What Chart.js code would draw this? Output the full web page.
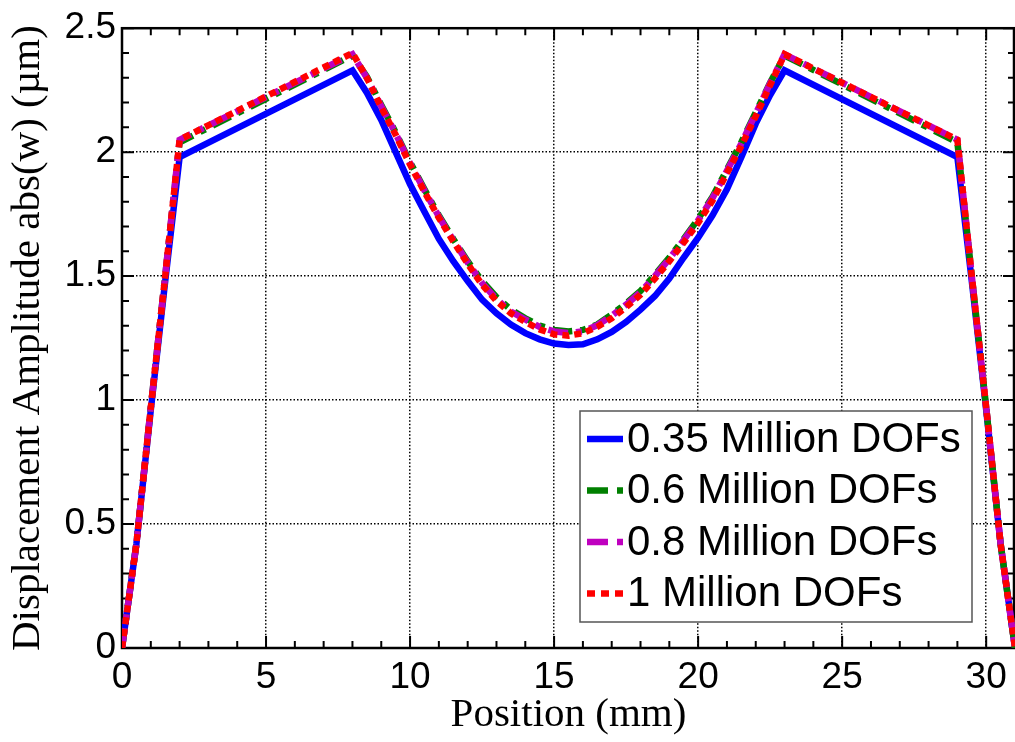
<!DOCTYPE html>
<html>
<head>
<meta charset="utf-8">
<script src="https://cdn.jsdelivr.net/npm/chart.js"></script>
<style>
  html, body { margin: 0; padding: 0; background: #fff; }
  canvas { display: block; }
</style>
</head>
<body>
<canvas id="dofs" width="1015" height="742"></canvas>
<script>
// position along the part (mm)
const position = [0, 0.5, 1, 1.5, 2,
  8, 8.5, 9, 9.5, 10, 10.5, 11, 11.5, 12, 12.5, 13, 13.5, 14, 14.5, 15, 15.5,
  16, 16.5, 17, 17.5, 18, 18.5, 19, 19.5, 20, 20.5, 21, 21.5, 22, 22.5, 23,
  29, 29.5, 30, 30.5, 31];

// displacement amplitude abs(w) (um), one array per mesh
const dofs035 = [0, 0.42, 0.96, 1.48, 1.98,
  2.33, 2.24, 2.13, 2.00, 1.87, 1.76, 1.65, 1.56, 1.48, 1.405, 1.35, 1.305, 1.27, 1.245, 1.228, 1.222,
  1.225, 1.245, 1.275, 1.315, 1.365, 1.42, 1.49, 1.575, 1.655, 1.745, 1.85, 1.98, 2.115, 2.23, 2.33,
  1.98, 1.48, 0.96, 0.42, 0];
const dofs06 = [0, 0.42, 0.97, 1.50, 2.04,
  2.39, 2.305, 2.19, 2.08, 1.96, 1.85, 1.745, 1.65, 1.56, 1.48, 1.415, 1.365, 1.33, 1.30, 1.283, 1.277,
  1.283, 1.305, 1.345, 1.39, 1.44, 1.505, 1.575, 1.65, 1.73, 1.82, 1.93, 2.04, 2.16, 2.28, 2.39,
  2.04, 1.50, 0.97, 0.42, 0];
const dofs08 = [0, 0.42, 0.97, 1.50, 2.05,
  2.395, 2.30, 2.185, 2.075, 1.955, 1.845, 1.74, 1.645, 1.555, 1.472, 1.407, 1.357, 1.325, 1.295, 1.277, 1.27,
  1.277, 1.302, 1.34, 1.385, 1.435, 1.50, 1.57, 1.645, 1.725, 1.815, 1.925, 2.035, 2.155, 2.278, 2.395,
  2.05, 1.50, 0.97, 0.42, 0];
const dofs1 = [0, 0.42, 0.97, 1.50, 2.05,
  2.40, 2.30, 2.18, 2.07, 1.95, 1.84, 1.735, 1.64, 1.55, 1.465, 1.40, 1.35, 1.315, 1.285, 1.265, 1.26,
  1.27, 1.295, 1.33, 1.375, 1.425, 1.49, 1.56, 1.635, 1.715, 1.805, 1.915, 2.025, 2.145, 2.27, 2.395,
  2.05, 1.50, 0.97, 0.42, 0];

const seriesLabels = ["0.35 Million DOFs", "0.6 Million DOFs", "0.8 Million DOFs", "1 Million DOFs"];
const xTicks = [0, 5, 10, 15, 20, 25, 30];
const yTicks = [0, 0.5, 1, 1.5, 2, 2.5];

const sans = "'Liberation Sans', Arial, sans-serif";
const serif = "'Liberation Serif', 'Times New Roman', serif";
Chart.defaults.font.family = sans;
Chart.defaults.color = "#000";

function pts(ys) {
  return position.map((x, i) => ({ x: x, y: ys[i] }));
}

// inward major/minor ticks on all four sides plus the box
const frame = {
  id: "frame",
  beforeDatasetsDraw(chart) {
    const { ctx, chartArea: a, scales: { x, y } } = chart;
    ctx.save();
    ctx.strokeStyle = "#000";
    ctx.lineWidth = 2;
    ctx.beginPath();
    for (let v = 0; v <= 31; v++) {
      const px = x.getPixelForValue(v);
      const len = v % 5 === 0 ? 12 : 7;
      ctx.moveTo(px, a.bottom); ctx.lineTo(px, a.bottom - len);
      ctx.moveTo(px, a.top); ctx.lineTo(px, a.top + len);
    }
    for (let k = 0; k <= 25; k++) {
      const py = y.getPixelForValue(k / 10);
      const len = k % 5 === 0 ? 12 : 7;
      ctx.moveTo(a.left, py); ctx.lineTo(a.left + len, py);
      ctx.moveTo(a.right, py); ctx.lineTo(a.right - len, py);
    }
    ctx.stroke();
    ctx.lineWidth = 2.5;
    ctx.strokeRect(a.left, a.top, a.right - a.left - 1, a.bottom - a.top);
    ctx.restore();
  }
};

// boxed legend inside the plot, lower right
const boxLegend = {
  id: "boxLegend",
  afterDatasetsDraw(chart) {
    const { ctx, chartArea: a } = chart;
    const right = a.right - 43, bottom = a.bottom - 26;
    const left = right - 392, top = bottom - 211;
    ctx.save();
    ctx.fillStyle = "#fff";
    ctx.fillRect(left, top, right - left, bottom - top);
    ctx.strokeStyle = "#555";
    ctx.lineWidth = 1.5;
    ctx.strokeRect(left, top, right - left, bottom - top);
    ctx.font = "42px " + sans;
    ctx.textBaseline = "middle";
    ctx.textAlign = "left";
    chart.data.datasets.forEach((ds, i) => {
      const ry = top + 28 + i * 51.5;
      ctx.beginPath();
      ctx.strokeStyle = ds.borderColor;
      ctx.lineWidth = ds.borderWidth;
      ctx.setLineDash(ds.legendDash || []);
      ctx.moveTo(left + 7, ry);
      ctx.lineTo(left + 43, ry);
      ctx.stroke();
      ctx.setLineDash([]);
      ctx.fillStyle = "#000";
      ctx.fillText(ds.label, left + 47, ry + 1);
    });
    ctx.restore();
  }
};

new Chart(document.getElementById("dofs"), {
  type: "line",
  data: {
    datasets: [
      {
        label: seriesLabels[0],
        data: pts(dofs035),
        borderColor: "rgb(0, 0, 255)",
        borderWidth: 6.5,
        order: 4,
      },
      {
        label: seriesLabels[1],
        data: pts(dofs06),
        borderColor: "rgb(0, 128, 0)",
        borderWidth: 6.5,
        borderDash: [20, 8, 6, 8],
        legendDash: [21, 9, 6, 9],
        order: 3,
      },
      {
        label: seriesLabels[2],
        data: pts(dofs08),
        borderColor: "rgb(191, 0, 191)",
        borderWidth: 6.5,
        borderDash: [20, 8, 6, 8],
        legendDash: [21, 9, 6, 9],
        order: 2,
      },
      {
        label: seriesLabels[3],
        data: pts(dofs1),
        borderColor: "rgb(255, 0, 0)",
        borderWidth: 6.5,
        borderDash: [7, 5],
        legendDash: [8, 6],
        order: 1,
      },
    ],
  },
  options: {
    responsive: false,
    animation: false,
    devicePixelRatio: 1,
    layout: { padding: { top: 22, right: 0, bottom: 0, left: 0 } },
    elements: { point: { radius: 0 }, line: { tension: 0, fill: false } },
    plugins: { legend: { display: false }, tooltip: { enabled: false } },
    scales: {
      x: {
        type: "linear",
        min: 0,
        max: 31,
        afterBuildTicks: (s) => { s.ticks = xTicks.map((v) => ({ value: v })); },
        afterFit: (s) => { s.height = 94; },
        ticks: { font: { size: 37 }, color: "#000", padding: 8, maxRotation: 0, callback: (v) => String(v) },
        grid: { color: "#000", lineWidth: 1.5, drawTicks: false },
        border: { display: false, dash: [1.5, 2] },
        title: {
          display: true,
          text: "Position (mm)",
          font: { family: serif, size: 41 },
          color: "#000",
          padding: { top: 0, bottom: 2 },
        },
      },
      y: {
        type: "linear",
        min: 0,
        max: 2.5,
        afterBuildTicks: (s) => { s.ticks = yTicks.map((v) => ({ value: v })); },
        afterFit: (s) => { s.width = 122; },
        ticks: { font: { size: 37 }, color: "#000", padding: 6, callback: (v) => String(v) },
        grid: { color: "#000", lineWidth: 1.5, drawTicks: false },
        border: { display: false, dash: [1.5, 2] },
        title: {
          display: true,
          text: "Displacement Amplitude abs(w) (\u00b5m)",
          font: { family: serif, size: 41 },
          color: "#000",
          padding: { top: 4, bottom: 0 },
        },
      },
    },
  },
  plugins: [frame, boxLegend],
});
</script>
</body>
</html>
